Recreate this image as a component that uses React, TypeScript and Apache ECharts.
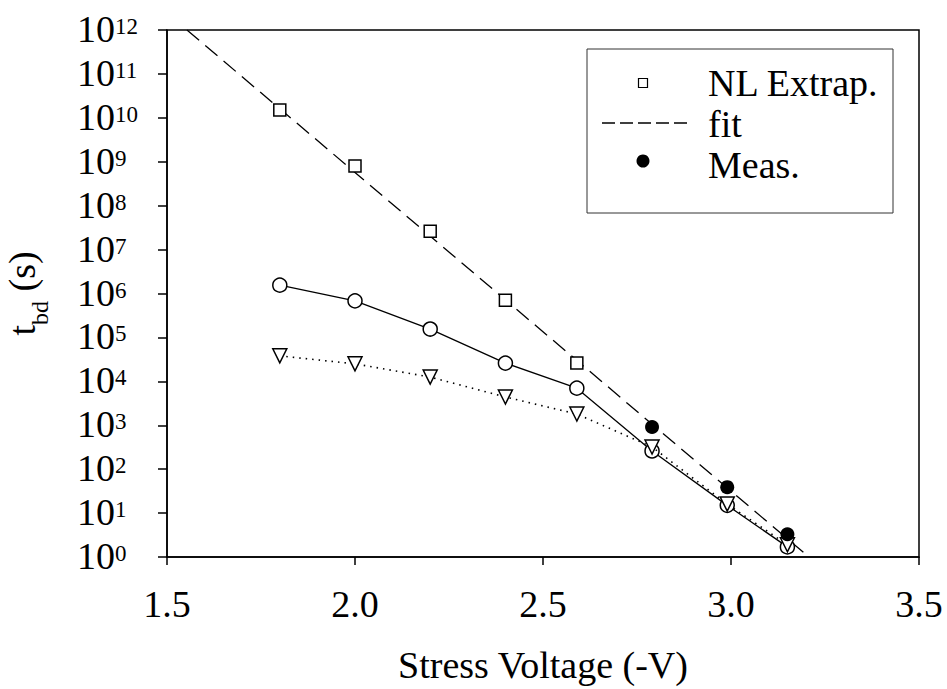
import React, { useEffect, useRef } from "react";
import * as echarts from "echarts";

const FONT = "Liberation Serif";

const circleX = [1.8, 2.0, 2.2, 2.4, 2.59, 2.79, 2.99, 3.15];
const circleY = [1.55e6, 6.8e5, 1.55e5, 2.6e4, 7e3, 2.6e2, 15, 1.7];
const triangleX = [1.8, 2.0, 2.2, 2.4, 2.59, 2.79, 2.99, 3.15];
const triangleY = [3.8e4, 2.5e4, 1.25e4, 4.4e3, 1.8e3, 3.2e2, 16, 1.9];
const squareX = [1.8, 2.0, 2.2, 2.4, 2.59];
const squareY = [1.5e10, 8e8, 2.6e7, 7e5, 2.6e4];
const measX = [2.79, 2.99, 3.15];
const measY = [9.1e2, 39, 3.3];
const fitX = [1.553, 3.207];
const fitY = [1e12, 1];
const xTicks = [1.5, 2.0, 2.5, 3.0, 3.5];
const legendLabels = ["NL Extrap.", "fit", "Meas."];

const zip = (xs: number[], ys: number[]) => xs.map((x, i) => [x, ys[i]]);

export default function App() {
  const ref = useRef<HTMLDivElement>(null);
  useEffect(() => {
    if (!ref.current) return;
    const chart = echarts.init(ref.current, null, { renderer: "svg" });
    const black = "#000";
    const option: any = {
      animation: false,
      backgroundColor: "#fff",
      textStyle: { fontFamily: FONT },
      grid: {
        left: 167,
        right: 28,
        top: 30,
        bottom: 132,
        containLabel: false,
        outerBoundsMode: "none",
        show: true,
        borderColor: black,
        borderWidth: 1.5,
        backgroundColor: "transparent",
      },
      xAxis: {
        type: "value",
        min: xTicks[0],
        max: xTicks[xTicks.length - 1],
        interval: 0.5,
        name: "Stress Voltage (-V)",
        nameLocation: "middle",
        nameGap: 89,
        nameTextStyle: { fontSize: 38, color: black, fontFamily: FONT },
        axisLine: { show: true, lineStyle: { color: black, width: 1.5 } },
        axisTick: { show: true, inside: false, length: 8, lineStyle: { color: black, width: 1.5 } },
        axisLabel: {
          fontSize: 38,
          color: black,
          fontFamily: FONT,
          margin: 28,
          formatter: (v: number) => v.toFixed(1),
        },
        splitLine: { show: false },
      },
      yAxis: {
        type: "log",
        logBase: 10,
        min: 1,
        max: 1e12,
        interval: 1,
        name: "{t|t}{sub|bd}{t| (s)}",
        nameLocation: "middle",
        nameGap: 124,
        nameRotate: 90,
        nameTextStyle: {
          color: black,
          fontFamily: FONT,
          rich: {
            t: { fontSize: 38, lineHeight: 40, verticalAlign: "top", fontFamily: FONT, color: black },
            sub: {
              fontSize: 24,
              lineHeight: 24,
              verticalAlign: "top",
              padding: [25, 0, 0, 0],
              fontFamily: FONT,
              color: black,
            },
          },
        },
        axisLine: { show: true, lineStyle: { color: black, width: 1.5 } },
        axisTick: { show: true, inside: false, length: 9, lineStyle: { color: black, width: 1.5 } },
        minorTick: { show: false },
        axisLabel: {
          align: "left",
          margin: 90,
          color: black,
          fontFamily: FONT,
          formatter: (v: number) => `{b|10}{s|${Math.round(Math.log10(v))}}`,
          rich: {
            b: { fontSize: 38, lineHeight: 40, verticalAlign: "top", fontFamily: FONT, color: black },
            s: {
              fontSize: 23,
              lineHeight: 23,
              verticalAlign: "top",
              padding: [5, 0, 0, 0],
              fontFamily: FONT,
              color: black,
            },
          },
        },
        splitLine: { show: false },
      },
      series: [
        {
          name: "fit",
          type: "line",
          data: zip(fitX, fitY),
          symbol: "none",
          lineStyle: { color: black, width: 1.3, type: [16, 8] },
          z: 1,
        },
        {
          name: "circles",
          type: "line",
          data: zip(circleX, circleY),
          symbol: "circle",
          symbolSize: 14,
          itemStyle: { color: "#fff", borderColor: black, borderWidth: 1.5, opacity: 1 },
          lineStyle: { color: black, width: 1.3, type: "solid" },
          z: 2,
        },
        {
          name: "triangles",
          type: "line",
          data: zip(triangleX, triangleY),
          symbol: "triangle",
          symbolRotate: 180,
          symbolSize: 14,
          itemStyle: { color: "#fff", borderColor: black, borderWidth: 1.5, opacity: 1 },
          lineStyle: { color: black, width: 1.6, type: [1.5, 5] },
          z: 3,
        },
        {
          name: "NL Extrap.",
          type: "scatter",
          data: zip(squareX, squareY),
          symbol: "rect",
          symbolSize: 12,
          itemStyle: { color: "#fff", borderColor: black, borderWidth: 1.5, opacity: 1 },
          z: 4,
        },
        {
          name: "Meas.",
          type: "scatter",
          data: zip(measX, measY),
          symbol: "circle",
          symbolSize: 14,
          itemStyle: { color: black, opacity: 1 },
          z: 5,
        },
      ],
      graphic: [
        {
          type: "group",
          z: 100,
          children: [
            {
              type: "rect",
              shape: { x: 587, y: 49, width: 306, height: 164 },
              style: { fill: "#fff", stroke: "#333", lineWidth: 1 },
            },
            {
              type: "rect",
              shape: { x: 638.5, y: 78.5, width: 9, height: 9 },
              style: { fill: "#fff", stroke: black, lineWidth: 1.2 },
            },
            {
              type: "line",
              shape: { x1: 602, y1: 123, x2: 688, y2: 123 },
              style: { stroke: black, lineWidth: 1.3, lineDash: [13, 5] },
            },
            {
              type: "circle",
              shape: { cx: 643, cy: 161, r: 6.5 },
              style: { fill: black },
            },
            ...legendLabels.map((t, i) => ({
              type: "text",
              x: 708,
              y: 82.5 + i * 41,
              style: {
                text: t,
                fontSize: 38,
                fontFamily: FONT,
                fill: black,
                textAlign: "left",
                textVerticalAlign: "middle",
              },
            })),
          ],
        },
      ],
    };
    chart.setOption(option);
    return () => chart.dispose();
  }, []);
  return (
    <div
      ref={ref}
      style={{ position: "fixed", left: 0, top: 0, width: 947, height: 689, background: "#fff" }}
    />
  );
}
